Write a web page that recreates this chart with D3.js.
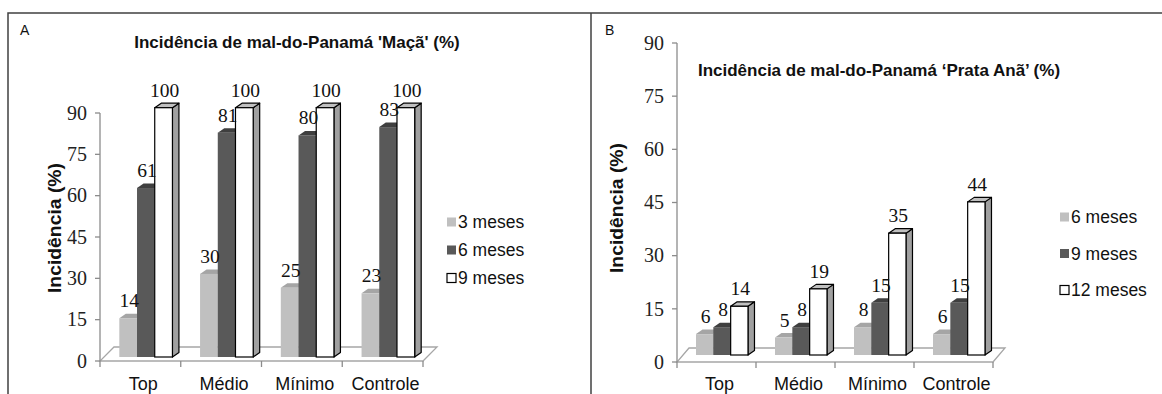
<!DOCTYPE html>
<html>
<head>
<meta charset="utf-8">
<script src="https://cdn.jsdelivr.net/npm/d3@7"></script>
<style>
  body { margin: 0; background: #fff; }
  svg { display: block; }
  .sans { font-family: "Liberation Sans", Arial, sans-serif; }
  .serif { font-family: "Liberation Serif", "Times New Roman", serif; }
</style>
</head>
<body>
<svg id="chart" width="1162" height="394"></svg>
<script>
const WIDTH = 1162, HEIGHT = 394

// data
const categories = ["Top", "Médio", "Mínimo", "Controle"]
const yTicks = [0, 15, 30, 45, 60, 75, 90]

const seriesA = ["3 meses", "6 meses", "9 meses"]
const a3meses = [14, 30, 25, 23]
const a6meses = [61, 81, 80, 83]
const a9meses = [100, 100, 100, 100]

const seriesB = ["6 meses", "9 meses", "12 meses"]
const b6meses = [6, 5, 8, 6]
const b9meses = [8, 8, 15, 15]
const b12meses = [14, 19, 35, 44]

// faces: front, top, side
const styles = [
  {front: "#c0c0c0", top: "#a5a5a5", side: "#969696", stroke: "none"},
  {front: "#595959", top: "#3f3f3f", side: "#333", stroke: "none"},
  {front: "#ffffff", top: "#c0c0c0", side: "#a0a0a0", stroke: "#000"}
]

const svg = d3.select("#chart")

// frame
svg.append("path")
  .attr("d", `M8,394 V13 H${WIDTH}`)
  .attr("fill", "none").attr("stroke", "#404040").attr("stroke-width", 1.5)
svg.append("line")
  .attr("x1", 591).attr("x2", 591).attr("y1", 13).attr("y2", HEIGHT)
  .attr("stroke", "#404040").attr("stroke-width", 1.5)

const drawPanel = function (p) {
  const g = svg.append("g")

  const x = d3.scaleBand().domain(categories).range([p.x0, p.x1])
  const xs = d3.scaleBand().domain(d3.range(p.series.length))
    .range([0, x.bandwidth()]).paddingOuter(0.78)
  const yAxis = d3.scaleLinear().domain([0, 90]).range([p.y0, p.y90])
  const yBar = d3.scaleLinear().domain([0, 90]).range([p.base, p.base - 90 * p.unit]).clamp(true)

  const dx = p.dx, dy = -14   // floor depth
  const bx = 6.5, by = -4.5   // bar depth

  // floor
  g.append("polygon")
    .attr("points", [[p.x0, p.y0], [p.x1, p.y0], [p.x1 + dx, p.y0 + dy], [p.x0 + dx, p.y0 + dy]].join(" "))
    .attr("fill", "none").attr("stroke", "#a6a6a6").attr("stroke-width", 1.3)

  // value axis
  g.append("line")
    .attr("x1", p.x0).attr("x2", p.x0).attr("y1", p.y0).attr("y2", yAxis(90))
    .attr("stroke", "#8c8c8c").attr("stroke-width", 1.3)
  g.selectAll(".ytick").data(yTicks).enter().append("line")
    .attr("x1", p.x0 - 5).attr("x2", p.x0)
    .attr("y1", d => yAxis(d)).attr("y2", d => yAxis(d))
    .attr("stroke", "#8c8c8c").attr("stroke-width", 1.3)
  g.selectAll(".ylab").data(yTicks).enter().append("text")
    .attr("class", "serif")
    .attr("x", p.x0 - 13).attr("y", d => yAxis(d))
    .attr("dy", "0.34em")
    .attr("text-anchor", "end")
    .attr("font-size", 20).attr("fill", "#222")
    .text(d => d)

  // category ticks
  g.selectAll(".xtick").data(d3.range(categories.length + 1)).enter().append("line")
    .attr("x1", d => p.x0 + d * x.step()).attr("x2", d => p.x0 + d * x.step())
    .attr("y1", p.y0).attr("y2", p.y0 + 6)
    .attr("stroke", "#8c8c8c").attr("stroke-width", 1.3)
  g.selectAll(".xlab").data(categories).enter().append("text")
    .attr("class", "sans")
    .attr("x", d => x(d) + x.bandwidth() / 2 + 3).attr("y", 389.5)
    .attr("text-anchor", "middle")
    .attr("font-size", 18).attr("fill", "#111")
    .text(d => d)

  // bars
  const bars = []
  categories.forEach((c, i) => {
    p.values.forEach((vals, j) => {
      const v = vals[i]
      const xl = x(c) + xs(j) + 5.5
      bars.push({c, j, v, xl, xr: xl + xs.bandwidth(), yt: yBar(v)})
    })
  })

  const bar = g.selectAll(".bar").data(bars).enter().append("g")
  bar.append("polygon")
    .attr("points", d => [[d.xr, d.yt], [d.xr + bx, d.yt + by], [d.xr + bx, p.base + by], [d.xr, p.base]].join(" "))
    .attr("fill", d => styles[d.j].side)
    .attr("stroke", d => styles[d.j].stroke).attr("stroke-width", 1.2).attr("stroke-linejoin", "round")
  bar.append("polygon")
    .attr("points", d => [[d.xl, d.yt], [d.xl + bx, d.yt + by], [d.xr + bx, d.yt + by], [d.xr, d.yt]].join(" "))
    .attr("fill", d => styles[d.j].top)
    .attr("stroke", d => styles[d.j].stroke).attr("stroke-width", 1.2).attr("stroke-linejoin", "round")
  bar.append("rect")
    .attr("x", d => d.xl).attr("y", d => d.yt)
    .attr("width", xs.bandwidth()).attr("height", d => p.base - d.yt)
    .attr("fill", d => styles[d.j].front)
    .attr("stroke", d => styles[d.j].stroke).attr("stroke-width", 1.2)

  // value labels
  g.selectAll(".vlab").data(bars).enter().append("text")
    .attr("class", "serif")
    .attr("x", d => (d.xl + d.xr) / 2 + 1).attr("y", d => d.yt - 11)
    .attr("text-anchor", "middle")
    .attr("font-size", 19.5).attr("fill", "#111")
    .text(d => d.v)

  // titles
  g.append("text").attr("class", "sans")
    .attr("x", p.letterX).attr("y", 35)
    .attr("font-size", 14).attr("fill", "#111")
    .text(p.letter)
  g.append("text").attr("class", "sans")
    .attr("x", p.titleX).attr("y", p.titleY)
    .attr("text-anchor", "middle")
    .attr("font-size", 17).attr("font-weight", "bold").attr("fill", "#111")
    .text(p.title)
  g.append("text").attr("class", "sans")
    .attr("transform", `translate(${p.ylabX},${p.ylabY}) rotate(-90)`)
    .attr("text-anchor", "middle").attr("dy", "0.35em")
    .attr("font-size", 18.5).attr("font-weight", "bold").attr("fill", "#111")
    .attr("textLength", 130).attr("lengthAdjust", "spacingAndGlyphs")
    .text("Incidência (%)")

  // legend
  const leg = g.selectAll(".leg").data(p.series).enter().append("g")
    .attr("transform", (d, i) => `translate(${p.legX},${p.legY + i * p.legStep})`)
  leg.append("rect")
    .attr("x", 0).attr("y", -4.5).attr("width", 9).attr("height", 9)
    .attr("fill", (d, i) => styles[i].front)
    .attr("stroke", (d, i) => i === 2 ? "#000" : "none").attr("stroke-width", 1.2)
  leg.append("text").attr("class", "sans")
    .attr("x", 11).attr("y", 0).attr("dy", "0.35em")
    .attr("font-size", 17.5).attr("fill", "#111")
    .text(d => d)
}

drawPanel({
  letter: "A", letterX: 20,
  title: "Incidência de mal-do-Panamá 'Maçã' (%)", titleX: 297, titleY: 48,
  ylabX: 55, ylabY: 228,
  series: seriesA, values: [a3meses, a6meses, a9meses],
  x0: 100, x1: 423, dx: 14, y0: 361, y90: 113, base: 357, unit: 2.77,
  legX: 447, legY: 222, legStep: 28
})

drawPanel({
  letter: "B", letterX: 605,
  title: "Incidência de mal-do-Panamá \u2018Prata Anã\u2019 (%)", titleX: 879, titleY: 76,
  ylabX: 617, ylabY: 208,
  series: seriesB, values: [b6meses, b9meses, b12meses],
  x0: 677, x1: 993, dx: 12, y0: 362, y90: 43, base: 355, unit: 3.48,
  legX: 1060, legY: 217, legStep: 36.5
})
</script>
</body>
</html>
